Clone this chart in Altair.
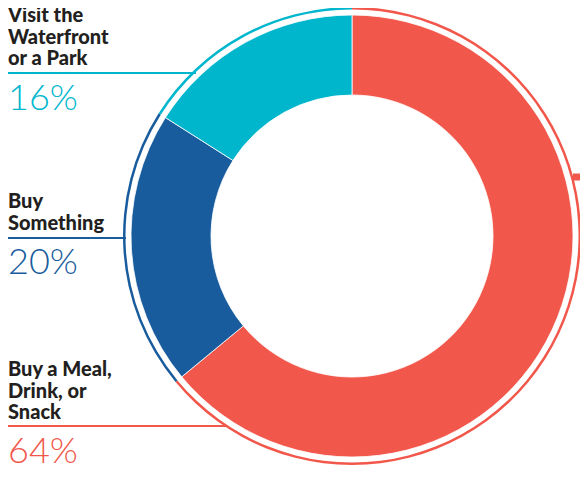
import altair as alt
import pandas as pd

# ---- data ----
categories = ["Buy a Meal, Drink, or Snack", "Buy Something", "Visit the Waterfront or a Park"]
values = [64, 20, 16]
label_lines = ["Buy a Meal,\nDrink, or\nSnack", "Buy\nSomething", "Visit the\nWaterfront\nor a Park"]
pct_labels = ["64%", "20%", "16%"]

# ---- style / layout ----
colors = ["#F2574B", "#185C9D", "#00B6CD"]
text_color = "#231F20"
CX, CY = 344, 228
R_OUT, R_IN = 221, 141
RING_IN, RING_OUT = 226.5, 229
label_y = [368, 200, 14]
pct_y = [455, 266, 102]
rule_y = [418, 230, 65]
rule_x1 = [0, 0, 0]
rule_x2 = [218, 118, 188]

df = pd.DataFrame({
    "cat": categories,
    "val": values,
    "idx": list(range(len(categories))),
    "label": label_lines,
    "pct": pct_labels,
    "ly": label_y,
    "py": pct_y,
    "ry": rule_y,
    "rx1": rule_x1,
    "rx2": rule_x2,
})

color = alt.Color("cat:N", scale=alt.Scale(domain=categories, range=colors), legend=None)

base = alt.Chart(df)

donut = base.mark_arc(radius=R_OUT, radius2=R_IN, stroke="white", strokeWidth=0.8).encode(
    theta=alt.Theta("val:Q", stack=True),
    order=alt.Order("idx:Q"),
    color=color,
    x=alt.value(CX), y=alt.value(CY),
)

ring = base.mark_arc(radius=RING_OUT, radius2=RING_IN).encode(
    theta=alt.Theta("val:Q", stack=True),
    order=alt.Order("idx:Q"),
    color=color,
    x=alt.value(CX), y=alt.value(CY),
)

rules = base.mark_rule(strokeWidth=2).encode(
    x=alt.X("rx1:Q", scale=None),
    x2=alt.X2("rx2:Q"),
    y=alt.Y("ry:Q", scale=None),
    color=color,
)

right_rule = alt.Chart(pd.DataFrame({"cat": [categories[0]]})).mark_rule(
    strokeWidth=7, color=colors[0]
).encode(
    x=alt.value(565), x2=alt.value(572), y=alt.value(169),
)

labels = base.mark_text(
    align="left", baseline="alphabetic", font="Lato", fontWeight=900,
    fontSize=20, lineBreak="\n", lineHeight=21.5, color=text_color,
).encode(
    x=alt.value(0),
    y=alt.Y("ly:Q", scale=None),
    text="label:N",
)

pcts = base.mark_text(
    align="left", baseline="alphabetic", font="Lato", fontWeight=300, fontSize=36,
).encode(
    x=alt.value(0),
    y=alt.Y("py:Q", scale=None),
    text="pct:N",
    color=color,
)

chart = alt.layer(ring, donut, rules, right_rule, labels, pcts).properties(
    width=572, height=461, padding=0, autosize=alt.AutoSizeParams(type="none"),
).configure_view(stroke=None)

chart.save("out.html", embed_options={"renderer": "svg", "actions": False})
